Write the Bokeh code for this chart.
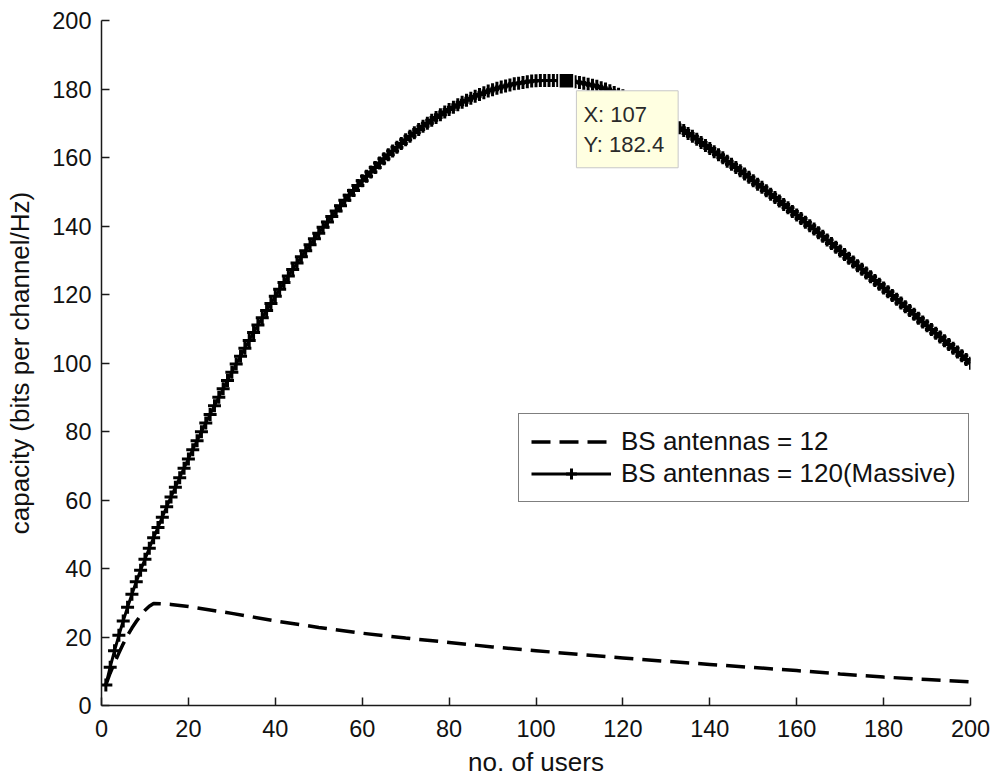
from bokeh.plotting import figure
from bokeh.models import Legend, LegendItem, Label, Range1d, FixedTicker
from bokeh.embed import file_html
from bokeh.resources import INLINE

# ---------------- data ----------------
users = list(range(1, 201))
cap_massive = [
    6.0, 11.2, 16.0, 20.5, 24.7, 28.7, 32.5, 36.1, 39.5, 42.7,
    45.9, 49.0, 52.0, 55.0, 58.0, 60.9, 63.7, 66.5, 69.3, 72.0,
    74.7, 77.3, 79.9, 82.5, 85.0, 87.5, 90.0, 92.5, 94.9, 97.3,
    99.7, 102.0, 104.3, 106.6, 108.9, 111.1, 113.2, 115.3, 117.4, 119.5,
    121.5, 123.5, 125.4, 127.3, 129.2, 131.0, 132.8, 134.5, 136.3, 137.9,
    139.6, 141.2, 142.8, 144.4, 145.9, 147.5, 149.0, 150.4, 151.8, 153.2,
    154.5, 155.8, 157.1, 158.4, 159.6, 160.8, 161.9, 163.0, 164.1, 165.2,
    166.2, 167.2, 168.2, 169.1, 170.0, 170.9, 171.7, 172.5, 173.3, 174.0,
    174.7, 175.4, 176.1, 176.7, 177.3, 177.9, 178.4, 178.9, 179.4, 179.8,
    180.2, 180.6, 180.9, 181.2, 181.5, 181.7, 181.9, 182.1, 182.3, 182.4,
    182.5, 182.5, 182.5, 182.5, 182.5, 182.4, 182.4, 182.3, 182.1, 181.9,
    181.7, 181.4, 181.1, 180.8, 180.4, 180.0, 179.5, 179.0, 178.5, 178.0,
    177.4, 176.8, 176.2, 175.5, 174.8, 174.1, 173.4, 172.7, 171.9, 171.1,
    170.3, 169.5, 168.7, 167.9, 167.0, 166.2, 165.3, 164.4, 163.5, 162.6,
    161.7, 160.8, 159.9, 158.9, 158.0, 157.1, 156.1, 155.2, 154.2, 153.2,
    152.2, 151.3, 150.3, 149.3, 148.3, 147.3, 146.3, 145.3, 144.2, 143.2,
    142.2, 141.1, 140.1, 139.1, 138.0, 137.0, 135.9, 134.9, 133.8, 132.7,
    131.7, 130.6, 129.5, 128.4, 127.4, 126.3, 125.2, 124.1, 123.0, 121.9,
    120.8, 119.7, 118.6, 117.5, 116.4, 115.3, 114.2, 113.1, 112.0, 110.9,
    109.8, 108.7, 107.6, 106.5, 105.4, 104.3, 103.2, 102.1, 101.0, 99.9,
]

users_12 = [1, 2, 3, 4, 5, 6, 7, 8, 9, 10, 11, 12, 14, 16, 20, 25, 30, 35, 40,
            50, 60, 70, 80, 90, 100, 110, 120, 130, 140, 150, 160, 170, 180, 190, 200]
cap_12 = [6.0, 9.5, 12.5, 15.3, 18.0, 20.5, 22.6, 24.5, 26.3, 27.8, 29.0, 29.8,
          29.7, 29.5, 28.9, 27.9, 26.9, 25.8, 24.7, 22.8, 21.1, 19.7, 18.4, 17.1,
          16.0, 14.9, 13.9, 12.9, 12.0, 11.1, 10.2, 9.2, 8.3, 7.6, 6.9]

x_ticks = [0, 20, 40, 60, 80, 100, 120, 140, 160, 180, 200]
y_ticks = [0, 20, 40, 60, 80, 100, 120, 140, 160, 180, 200]

series_labels = ["BS antennas = 12", "BS antennas = 120(Massive)"]
x_title = "no. of users"
y_title = "capacity (bits per channel/Hz)"

tip_x = 107
tip_y = 182.4

FONT = "Liberation Sans"

# ---------------- figure ----------------
p = figure(
    frame_width=869, frame_height=685,
    min_border_left=101, min_border_right=20,
    min_border_top=20, min_border_bottom=70,
    x_range=Range1d(0, 200), y_range=Range1d(0, 200),
    output_backend="svg", toolbar_location=None,
    background_fill_color="white", border_fill_color="white",
)
p.outline_line_color = None
p.xgrid.visible = False
p.ygrid.visible = False

for ax, ticks in ((p.xaxis[0], x_ticks), (p.yaxis[0], y_ticks)):
    ax.ticker = FixedTicker(ticks=ticks)
    ax.major_tick_in = 8
    ax.major_tick_out = 0
    ax.minor_tick_in = 0
    ax.minor_tick_out = 0
    ax.axis_line_color = "#1a1a1a"
    ax.axis_line_width = 1.5
    ax.major_tick_line_color = "#1a1a1a"
    ax.major_tick_line_width = 1.5
    ax.major_label_text_font = FONT
    ax.major_label_text_font_size = "23.5px"
    ax.major_label_text_color = "#111111"
    ax.axis_label_text_font = FONT
    ax.axis_label_text_font_size = "26px"
    ax.axis_label_text_font_style = "normal"
    ax.axis_label_text_color = "#111111"

p.xaxis.axis_label = x_title
p.yaxis.axis_label = y_title
p.xaxis.major_label_standoff = 14
p.xaxis.axis_label_standoff = 7
p.yaxis.major_label_standoff = 10
p.yaxis.axis_label_standoff = 14

# ---------------- series ----------------
r12 = p.line(users_12, cap_12, line_color="black", line_width=3.5, line_dash="19 9")
rm_line = p.line(users, cap_massive, line_color="black", line_width=3)
rm_pts = p.scatter(users, cap_massive, marker="cross", size=13,
                   line_color="black", line_width=3)

# data tip
p.scatter([tip_x], [tip_y], marker="square", size=15,
          fill_color="black", line_color="white", line_width=1.5)
tip = Label(x=tip_x, y=tip_y, x_offset=10, y_offset=-10,
            text=f"X: {tip_x}\nY: {tip_y}",
            text_font=FONT, text_font_size="22px", text_color="#2a2a2a",
            text_align="left", text_baseline="top",
            background_fill_color="#ffffe1", background_fill_alpha=1.0,
            border_line_color="#c8c8c8", border_line_width=1,
            padding=dict(left=7, right=14, top=11, bottom=11))
p.add_layout(tip)

# ---------------- legend ----------------
legend = Legend(
    items=[LegendItem(label=series_labels[0], renderers=[r12]),
           LegendItem(label=series_labels[1], renderers=[rm_line, rm_pts])],
    location=(417, 203),
    border_line_color="black", border_line_width=1,
    background_fill_color="white", background_fill_alpha=1.0,
    label_text_font=FONT, label_text_font_size="26px", label_text_color="#111111",
    glyph_width=80, glyph_height=27, label_height=27,
    label_standoff=10, padding=12, spacing=1, margin=0,
)
p.add_layout(legend)

open("out.html", "w").write(file_html(p, INLINE))
